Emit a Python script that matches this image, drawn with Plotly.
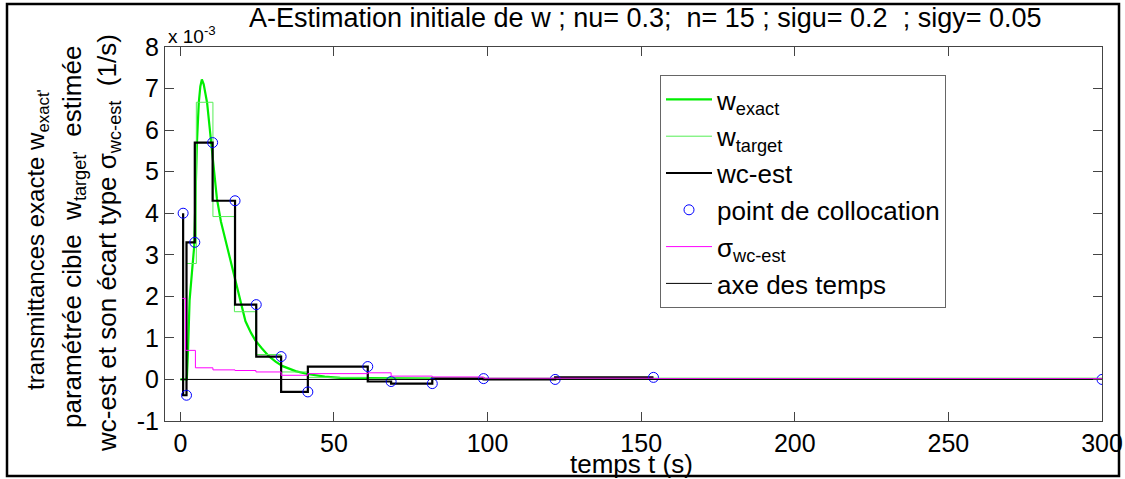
import plotly.graph_objects as go

# ---------------- data ----------------
# collocation points (t in s, value in 1e-3 1/s)
coll_t = [0.9, 2.0, 4.7, 10.5, 17.8, 24.7, 32.8, 41.5, 61.0, 68.6, 82.0, 98.7, 122.0, 154.0, 300.0]
coll_w = [4.0, -0.38, 3.3, 5.7, 4.3, 1.8, 0.55, -0.3, 0.31, -0.05, -0.1, 0.02, 0.0, 0.05, 0.0]

# estimated wc-est (stairs through the collocation points, up to t=154)
est_t = coll_t[:14]
est_w = coll_w[:14]

# exact transmittance
exact_t = [0, 2.1, 2.5, 3.0, 3.8, 4.5, 4.9, 5.4, 6.0, 6.5, 7.0, 7.6, 8.7, 10.0, 11.0, 11.9,
           13.2, 14.7, 16.2, 17.9, 19.5, 21.2, 23.0, 24.4, 26.5, 28.8, 31.0, 33.3, 37.5,
           41.3, 47.0, 52.0, 60.0, 80.0, 100.0, 150.0, 200.0, 250.0, 300.0]
exact_w = [0, 0, 0.7, 1.9, 2.6, 3.2, 4.3, 5.7, 6.66, 7.05, 7.22, 7.1, 6.66, 5.69, 5.0, 4.35,
           3.8, 3.35, 2.85, 2.35, 1.85, 1.4, 1.12, 0.94, 0.75, 0.56, 0.43, 0.32, 0.2,
           0.13, 0.07, 0.04, 0.03, 0.02, 0.015, 0.015, 0.015, 0.015, 0.015]

# parametrised target (stairs, value held from t to next t)
target_t = [0, 2.0, 5.2, 10.6, 17.6, 24.5, 32.7, 41.5, 61.0, 68.6, 82.0, 98.7, 122.0, 154.0, 300.0]
target_w = [0, 2.79, 6.67, 3.92, 1.63, 0.6, 0.18, 0.05, 0.02, 0.015, 0.015, 0.015, 0.015, 0.015, 0.015]

# standard deviation sigma_wc-est (stairs, value held from t to next t)
sig_t = [0.6, 1.7, 4.9, 10.6, 17.8, 24.6, 32.8, 41.5, 61.0, 68.6, 82.0, 98.7, 122.0, 154.0, 300.0]
sig_w = [1.95, 0.7, 0.28, 0.23, 0.215, 0.18, 0.1, 0.14, 0.16, 0.08, 0.06, 0.03, 0.03, 0.02, 0.02]

# time axis
axis_t = [0, 300]
axis_w = [0, 0]

x_ticks = [0, 50, 100, 150, 200, 250, 300]
y_ticks = [-1, 0, 1, 2, 3, 4, 5, 6, 7, 8]

FONT = "Liberation Sans, Arial, sans-serif"
FS = 26
TFS = 25

# plot area in pixels
L, R, T, B = 165, 1102, 47, 421
W, H = 1125, 479


def px_x(p):
    return (p - L) / (R - L)


def px_y(p):
    return (B - p) / (B - T)


fig = go.Figure()

fig.add_trace(go.Scatter(x=exact_t, y=exact_w, mode="lines", name="w<sub>exact</sub>",
                         line=dict(color="#00ee00", width=2.2), legendgroup="a"))
fig.add_trace(go.Scatter(x=target_t, y=target_w, mode="lines", name="w<sub>target</sub>",
                         line=dict(color="#55ee55", width=1, shape="hv"), legendgroup="b"))
fig.add_trace(go.Scatter(x=est_t, y=est_w, mode="lines", name="wc-est",
                         line=dict(color="black", width=2.2, shape="vh"), legendgroup="c"))
fig.add_trace(go.Scatter(x=coll_t, y=coll_w, mode="markers", name="point de collocation",
                         marker=dict(symbol="circle-open", size=10, color="#0000ff",
                                     line=dict(width=1, color="#0000ff")), legendgroup="d"))
fig.add_trace(go.Scatter(x=sig_t, y=sig_w, mode="lines", name="σ<sub>wc-est</sub>",
                         line=dict(color="#ff00ff", width=1, shape="hv"), legendgroup="e"))
fig.add_trace(go.Scatter(x=axis_t, y=axis_w, mode="lines", name="axe des temps",
                         line=dict(color="black", width=1), legendgroup="f"))

axis_common = dict(showgrid=False, zeroline=False, showline=True, linecolor="#444444",
                   linewidth=1, mirror="ticks", ticks="inside", ticklen=9, tickcolor="#444444",
                   automargin=False,
                   tickfont=dict(family=FONT, size=TFS, color="black"))

fig.update_xaxes(range=[-5, 300], tickvals=x_ticks, ticktext=[str(v) for v in x_ticks],
                 **axis_common)
fig.update_yaxes(range=[-1, 8], tickvals=y_ticks, ticktext=[str(v) for v in y_ticks], **axis_common)

annotations = [
    dict(text="A-Estimation initiale de w ; nu= 0.3;  n= 15 ; sigu= 0.2  ; sigy= 0.05",
         x=px_x(645), y=px_y(18), xanchor="center", yanchor="middle",
         font=dict(family=FONT, size=27, color="black")),
    dict(text="x 10<sup>-3</sup>", x=px_x(166), y=px_y(35), xanchor="left", yanchor="middle",
         font=dict(family=FONT, size=19, color="black")),
    dict(text="temps t (s)", x=px_x(631), y=px_y(464), xanchor="center", yanchor="middle",
         font=dict(family=FONT, size=FS, color="black")),
    dict(text="transmittances exacte w<sub>exact'</sub>", x=px_x(37), y=px_y(240),
         xanchor="center", yanchor="middle", textangle=-90,
         font=dict(family=FONT, size=24, color="black")),
    dict(text="paramétrée cible  w<sub>target'</sub>  estimée", x=px_x(73), y=px_y(237),
         xanchor="center", yanchor="middle", textangle=-90,
         font=dict(family=FONT, size=FS, color="black")),
    dict(text="wc-est et son écart type σ<sub>wc-est</sub>  (1/s)", x=px_x(108), y=px_y(243),
         xanchor="center", yanchor="middle", textangle=-90,
         font=dict(family=FONT, size=FS, color="black")),
]
for a in annotations:
    a.update(xref="paper", yref="paper", showarrow=False)

fig.update_layout(
    width=W, height=H,
    margin=dict(l=L, r=W - R, t=T, b=H - B, pad=0),
    paper_bgcolor="white", plot_bgcolor="white",
    font=dict(family=FONT, size=FS, color="black"),
    annotations=annotations,
    showlegend=True,
    legend=dict(x=px_x(660), y=px_y(75), xanchor="left", yanchor="top",
                bgcolor="white", bordercolor="#666666", borderwidth=1,
                font=dict(family=FONT, size=FS, color="black"),
                traceorder="grouped", tracegroupgap=0, itemwidth=46),
    shapes=[dict(type="rect", xref="paper", yref="paper",
                 x0=px_x(7), x1=px_x(1119), y0=px_y(476), y1=px_y(4),
                 line=dict(color="black", width=2.5), fillcolor="rgba(0,0,0,0)", layer="below")],
)

fig.write_html("out.html")
